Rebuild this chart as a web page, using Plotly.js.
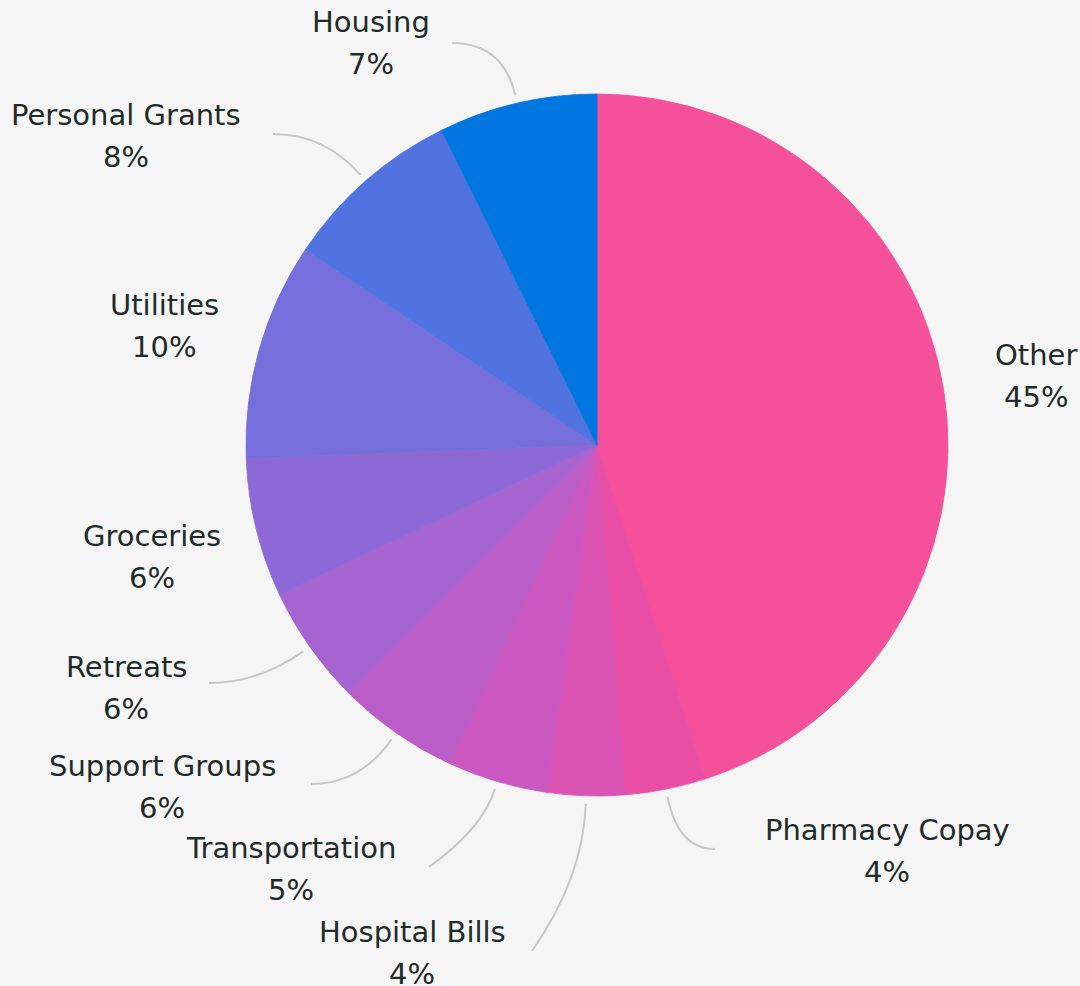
<!DOCTYPE html>
<html>
<head>
<meta charset="utf-8">
<script src="https://cdn.plot.ly/plotly-3.0.1.min.js"></script>
<style>
  html, body { margin: 0; padding: 0; background: #F5F5F5; }
  #chart { width: 1080px; height: 986px; }
</style>
</head>
<body>
<div id="chart"></div>
<script>
// ---- data ----
const categories = ["Other", "Pharmacy Copay", "Hospital Bills", "Transportation", "Support Groups",
                    "Retreats", "Groceries", "Utilities", "Personal Grants", "Housing"];
const shares = [45.0, 3.7, 3.6, 4.6, 5.6, 5.5, 6.4, 10.0, 8.3, 7.3];
const sliceColors = ["#F5509A", "#EB4FA5", "#DB53B3", "#CB58C0", "#BA5DC6",
                     "#A664D1", "#8D69D8", "#766FDB", "#5073E0", "#0077E0"];

// ---- label layout (pixel positions of label blocks and connector ends) ----
const labelCenters = [[1036, 376], [887, 851], [412, 953], [291, 869], [162, 787],
                      [126, 688], [152, 557], [164, 326], [126, 136], [371, 43]];
const connectorEnds = [null, [715, 849], [532, 951], [429, 867], [311, 784],
                       [209, 683], null, null, [273, 134], [452, 43]];

const W = 1080, H = 986;
const CX = 597, CY = 445, R = 351;
const px = x => x / W;
const py = y => 1 - y / H;

const total = shares.reduce((a, b) => a + b, 0);
const annotations = [];
const shapes = [];
const textFont = {family: "DejaVu Sans, sans-serif", size: 29, color: "#1E2B28"};

let cum = 0;
shares.forEach((v, i) => {
  const mid = (cum + v / 2) / total * 2 * Math.PI;   // clockwise from 12 o'clock
  cum += v;
  const pct = Math.round(v / total * 100) + "%";
  const [lx, ly] = labelCenters[i];
  annotations.push({xref: "paper", yref: "paper", x: px(lx), y: py(ly - 21),
    text: categories[i], showarrow: false, xanchor: "center", yanchor: "middle", font: textFont});
  annotations.push({xref: "paper", yref: "paper", x: px(lx), y: py(ly + 21),
    text: pct, showarrow: false, xanchor: "center", yanchor: "middle", font: textFont});
  const end = connectorEnds[i];
  if (end) {
    const dx = Math.sin(mid), dy = -Math.cos(mid);
    const sx = CX + dx * (R + 8), sy = CY + dy * (R + 8);
    let t = (end[1] - sy) / dy;
    if (t > 60) t = t / 2;
    const qx = sx + dx * t, qy = sy + dy * t;
    shapes.push({type: "path", xref: "paper", yref: "paper",
      path: `M ${px(sx)} ${py(sy)} Q ${px(qx)} ${py(qy)} ${px(end[0])} ${py(end[1])}`,
      line: {color: "#C8C8C8", width: 2}});
  }
});

const trace = {
  type: "pie",
  labels: categories,
  values: shares,
  sort: false,
  direction: "clockwise",
  rotation: 0,
  marker: {colors: sliceColors, line: {width: 0.8, color: sliceColors}},
  textinfo: "none",
  hoverinfo: "label+percent",
  showlegend: false,
  domain: {x: [px(CX - R), px(CX + R)], y: [py(CY + R), py(CY - R)]}
};

const layout = {
  width: W, height: H,
  margin: {l: 0, r: 0, t: 0, b: 0},
  paper_bgcolor: "#F5F5F5",
  plot_bgcolor: "#F5F5F5",
  showlegend: false,
  annotations: annotations,
  shapes: shapes
};

Plotly.newPlot("chart", [trace], layout, {displayModeBar: false, staticPlot: true});
</script>
</body>
</html>
